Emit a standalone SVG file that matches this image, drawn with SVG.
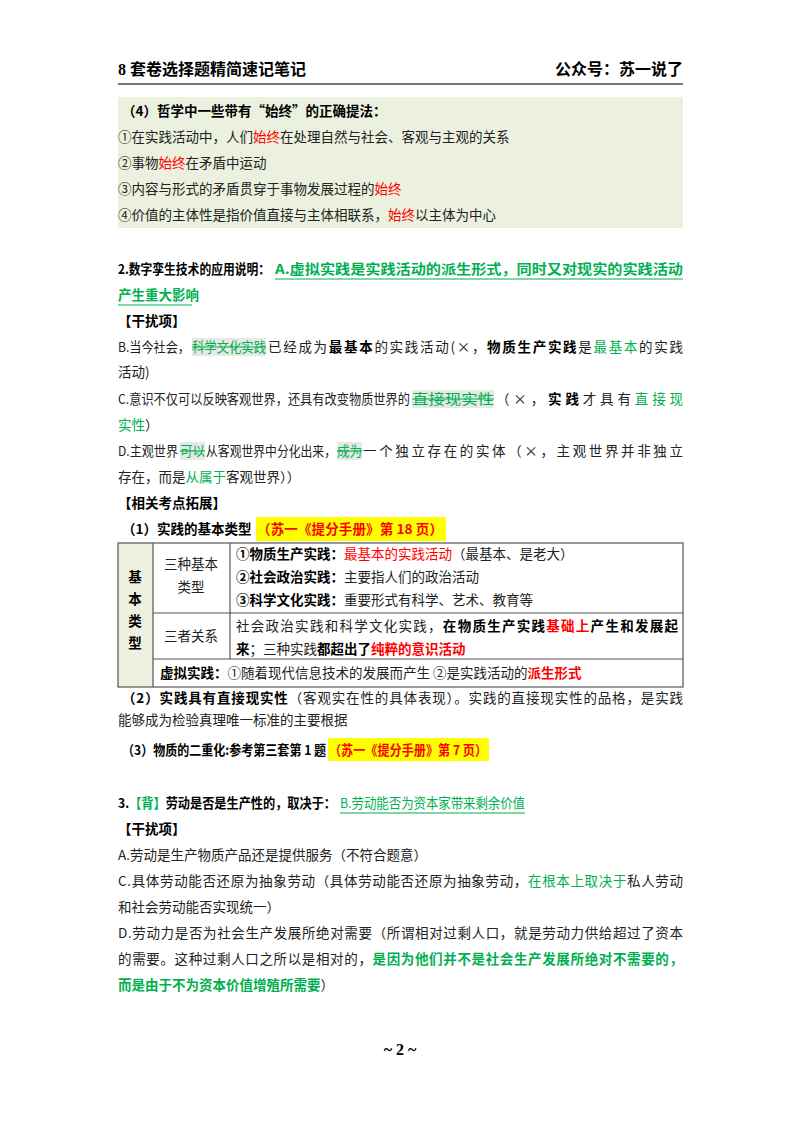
<svg xmlns="http://www.w3.org/2000/svg" width="800" height="1132" viewBox="0 0 800 1132">
<style>
text{font-family:"Noto Sans CJK SC","Liberation Serif",sans-serif;font-size:13.5px;fill:#222}
.b{font-weight:bold;fill:#000}
.h{font-weight:bold;font-size:16px;fill:#000;font-family:"Liberation Serif","Noto Sans CJK SC",serif}
.r{fill:#ff0000}
.g{fill:#00b050}
.rb{fill:#ff0000;font-weight:bold}
.gb{fill:#00b050;font-weight:bold}
.hl{fill:#e6e9e4}
.ul{stroke:#00b050;stroke-width:1.2}
.cell{fill:none;stroke:#555;stroke-width:1.2}
</style>
<rect width="800" height="1132" fill="#fff"/>
<g id="header">
<text class="h" x="118" y="75">8 套卷选择题精简速记笔记</text>
<text class="h" x="683" y="75" text-anchor="end">公众号：苏一说了</text>
<line x1="118" y1="84" x2="683" y2="84" stroke="#777" stroke-width="2"/>
</g>
<g id="box4">
<rect x="118" y="97" width="565" height="131" fill="#ebf1de"/>
<text x="122" y="116" class="b">（4）哲学中一些带有“始终”的正确提法：</text>
<text x="118" y="142">①在实践活动中，人们<tspan class="r">始终</tspan>在处理自然与社会、客观与主观的关系</text>
<text x="118" y="168">②事物<tspan class="r">始终</tspan>在矛盾中运动</text>
<text x="118" y="194">③内容与形式的矛盾贯穿于事物发展过程的<tspan class="r">始终</tspan></text>
<text x="118" y="220">④价值的主体性是指价值直接与主体相联系，<tspan class="r">始终</tspan>以主体为中心</text>
</g>
<g id="q2">
<text x="118" y="274" class="b" textLength="152" lengthAdjust="spacingAndGlyphs">2.数字孪生技术的应用说明：</text>
<text x="275" y="274" class="gb" textLength="408" lengthAdjust="spacingAndGlyphs">A.虚拟实践是实践活动的派生形式，同时又对现实的实践活动</text>
<line class="ul" x1="275" y1="279" x2="683" y2="279"/>
<text x="118" y="300" class="gb">产生重大影响</text>
<line class="ul" x1="118" y1="305" x2="192" y2="305"/>
<text x="118" y="326" class="b">【干扰项】</text>
<rect class="hl" x="192" y="338" width="74" height="18"/>
<rect class="hl" x="412" y="390" width="82" height="18"/>
<rect class="hl" x="180" y="442" width="25" height="18"/>
<rect class="hl" x="337" y="442" width="25" height="18"/>
<text x="118" y="352" textLength="72" lengthAdjust="spacingAndGlyphs">B.当今社会，</text>
<text x="192" y="352" class="g" textLength="74" lengthAdjust="spacingAndGlyphs">科学文化实践</text>
<text x="268" y="352" textLength="415" lengthAdjust="spacing">已经成为<tspan class="b">最基本</tspan>的实践活动(×，<tspan class="b">物质生产实践</tspan>是<tspan class="g">最基本</tspan>的实践</text>
<line class="ul" x1="192" y1="347" x2="266" y2="347"/>
<text x="118" y="377">活动)</text>
<text x="118" y="404" textLength="292" lengthAdjust="spacingAndGlyphs">C.意识不仅可以反映客观世界，还具有改变物质世界的</text>
<text x="412" y="404" class="g" textLength="82" lengthAdjust="spacingAndGlyphs">直接现实性</text>
<text x="496" y="404" textLength="187" lengthAdjust="spacing">（×，<tspan class="b">实践</tspan>才具有<tspan class="g">直接现</tspan></text>
<line class="ul" x1="412" y1="399" x2="494" y2="399"/>
<text x="118" y="430"><tspan class="g">实性</tspan>）</text>
<text x="118" y="456" textLength="60" lengthAdjust="spacingAndGlyphs">D.主观世界</text>
<text x="180" y="456" class="g" textLength="25" lengthAdjust="spacingAndGlyphs">可以</text>
<text x="206" y="456" textLength="130" lengthAdjust="spacingAndGlyphs">从客观世界中分化出来，</text>
<text x="337" y="456" class="g" textLength="25" lengthAdjust="spacingAndGlyphs">成为</text>
<text x="363" y="456" textLength="320" lengthAdjust="spacing">一个独立存在的实体（×，主观世界并非独立</text>
<line class="ul" x1="180" y1="451" x2="205" y2="451"/>
<line class="ul" x1="337" y1="451" x2="362" y2="451"/>
<text x="118" y="482">存在，而是<tspan class="g">从属于</tspan>客观世界））</text>
<text x="118" y="508" class="b">【相关考点拓展】</text>
</g>
<g id="ext1">
<rect x="256" y="517" width="190" height="24" fill="#ffff00"/>
<text x="122" y="534" class="b">（1）实践的基本类型</text>
<text x="257" y="534" class="rb" textLength="186" lengthAdjust="spacing">（苏一《提分手册》第 18 页）</text>
</g>
<g id="table">
<rect x="118" y="543" width="35" height="144" fill="#ebf1de"/>
<rect class="cell" x="118" y="543" width="565" height="144"/>
<line class="cell" x1="153" y1="543" x2="153" y2="687"/>
<line class="cell" x1="230" y1="543" x2="230" y2="659"/>
<line class="cell" x1="153" y1="613" x2="683" y2="613"/>
<line class="cell" x1="153" y1="659" x2="683" y2="659"/>
<text x="135" y="582" text-anchor="middle" class="b">基</text>
<text x="135" y="604" text-anchor="middle" class="b">本</text>
<text x="135" y="626" text-anchor="middle" class="b">类</text>
<text x="135" y="648" text-anchor="middle" class="b">型</text>
<text x="191" y="569" text-anchor="middle">三种基本</text>
<text x="191" y="592" text-anchor="middle">类型</text>
<text x="191" y="641" text-anchor="middle">三者关系</text>
<text x="236" y="559"><tspan class="b">①物质生产实践：</tspan><tspan class="r">最基本的实践活动</tspan>（最基本、是老大）</text>
<text x="236" y="582"><tspan class="b">②社会政治实践：</tspan>主要指人们的政治活动</text>
<text x="236" y="605"><tspan class="b">③科学文化实践：</tspan>重要形式有科学、艺术、教育等</text>
<text x="236" y="631" textLength="442" lengthAdjust="spacing">社会政治实践和科学文化实践，<tspan class="b">在物质生产实践</tspan><tspan class="rb">基础上</tspan><tspan class="b">产生和发展起</tspan></text>
<text x="236" y="654"><tspan class="b">来</tspan>；三种实践<tspan class="b">都超出了</tspan><tspan class="rb">纯粹的意识活动</tspan></text>
<text x="160" y="678"><tspan class="b">虚拟实践：</tspan>①随着现代信息技术的发展而产生 ②是实践活动的<tspan class="rb">派生形式</tspan></text>
</g>
<g id="ext2">
<text x="122" y="703" textLength="561" lengthAdjust="spacing"><tspan class="b">（2）实践具有直接现实性</tspan>（客观实在性的具体表现）。实践的直接现实性的品格，是实践</text>
<text x="118" y="725">能够成为检验真理唯一标准的主要根据</text>
<rect x="328" y="738" width="161" height="23" fill="#ffff00"/>
<text x="122" y="755" class="b" textLength="204" lengthAdjust="spacingAndGlyphs">（3）物质的二重化:参考第三套第 1 题</text>
<text x="329" y="755" class="rb" textLength="158" lengthAdjust="spacingAndGlyphs">（苏一《提分手册》第 7 页）</text>
</g>
<g id="q3">
<text x="118" y="808" textLength="218" lengthAdjust="spacingAndGlyphs"><tspan class="b">3.</tspan><tspan class="gb">【背】</tspan><tspan class="b">劳动是否是生产性的，取决于：</tspan></text>
<text x="340" y="808" class="g" textLength="185" lengthAdjust="spacingAndGlyphs">B.劳动能否为资本家带来剩余价值</text>
<line class="ul" x1="340" y1="813" x2="525" y2="813"/>
<text x="118" y="834" class="b">【干扰项】</text>
<text x="118" y="860">A.劳动是生产物质产品还是提供服务（不符合题意）</text>
<text x="118" y="886" textLength="565" lengthAdjust="spacing">C.具体劳动能否还原为抽象劳动（具体劳动能否还原为抽象劳动，<tspan class="g">在根本上取决于</tspan>私人劳动</text>
<text x="118" y="912">和社会劳动能否实现统一）</text>
<text x="118" y="938" textLength="565" lengthAdjust="spacing">D.劳动力是否为社会生产发展所绝对需要（所谓相对过剩人口，就是劳动力供给超过了资本</text>
<text x="118" y="964" textLength="565" lengthAdjust="spacing">的需要。这种过剩人口之所以是相对的，<tspan class="gb">是因为他们并不是社会生产发展所绝对不需要的，</tspan></text>
<text x="118" y="990"><tspan class="gb">而是由于不为资本价值增殖所需要</tspan>）</text>
</g>
<g id="footer">
<text x="400" y="1055" text-anchor="middle" class="h">~ 2 ~</text>
</g>
</svg>
